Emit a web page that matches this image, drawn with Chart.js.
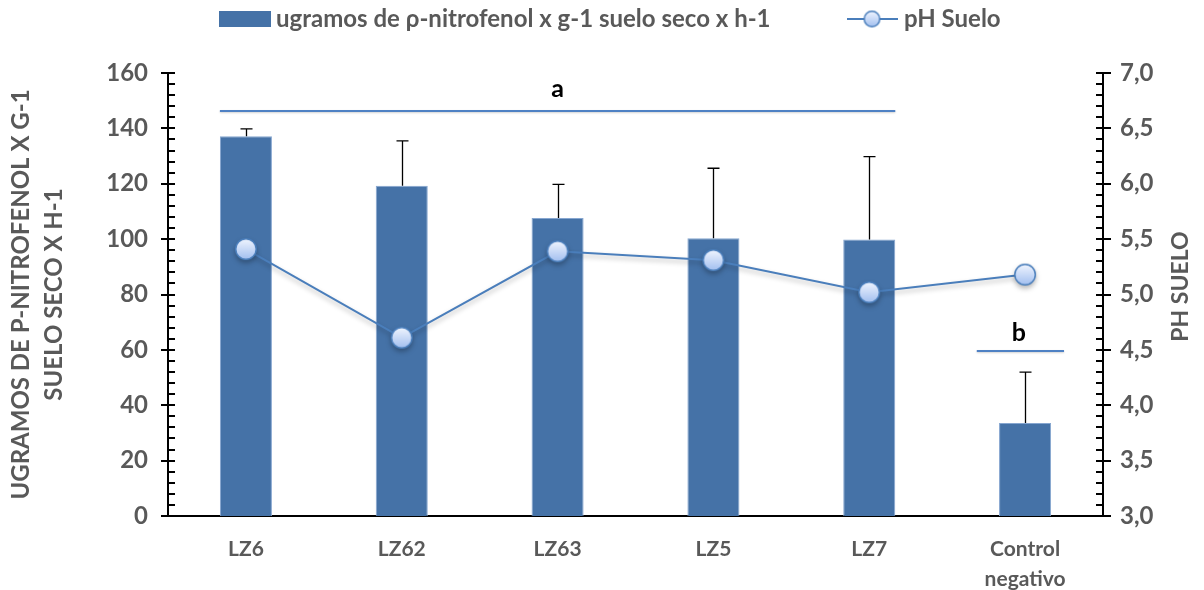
<!DOCTYPE html>
<html>
<head>
<meta charset="utf-8">
<script src="https://cdn.jsdelivr.net/npm/chart.js@4.4.1/dist/chart.umd.min.js"></script>
<style>
  html, body { margin: 0; padding: 0; background: #ffffff; }
  #wrap { width: 1204px; height: 590px; position: relative; }
</style>
</head>
<body>
<div id="wrap"><canvas id="c"></canvas></div>
<script>
// Categories and measured values
const categorias = ['LZ6', 'LZ62', 'LZ63', 'LZ5', 'LZ7', ['Control', 'negativo']];
const actividad = [137.2, 119.3, 107.6, 100.3, 99.9, 33.6];
const errorActividad = [2.6, 16.2, 12.2, 25.3, 29.9, 18.4];
const phSuelo = [5.41, 4.61, 5.39, 5.31, 5.02, 5.18];
const letrasGrupo = ['a', 'b'];

const serieBarras = 'ugramos de ρ-nitrofenol x g-1 suelo seco x h-1';
const serieLinea = 'pH Suelo';
const tituloIzq = ['UGRAMOS DE P-NITROFENOL X G-1', 'SUELO SECO X H-1'];
const tituloDer = 'PH SUELO';

const FONT = 'Lato, "Open Sans", "DejaVu Sans", sans-serif';
const GRIS = '#595959';
const AZUL_BARRA = '#4572a7';
const AZUL_LINEA = '#4a7ebb';

// Round marker with a soft vertical gradient
function marcador(d) {
  const s = d + 4;
  const c = document.createElement('canvas');
  c.width = s; c.height = s;
  const g = c.getContext('2d');
  const grad = g.createLinearGradient(0, 2, 0, 2 + d);
  grad.addColorStop(0, '#f3f7ff');
  grad.addColorStop(1, '#9fbdef');
  g.beginPath();
  g.arc(s / 2, s / 2, d / 2 - 0.75, 0, Math.PI * 2);
  g.fillStyle = grad;
  g.fill();
  g.lineWidth = 1.5;
  g.strokeStyle = AZUL_LINEA;
  g.stroke();
  return c;
}
const marcadorGrande = marcador(22);
const marcadorLeyenda = marcador(17);

// Axis ticks: majors cross the axis line, minors sit on the inner side
const marcasEje = {
  id: 'marcasEje',
  afterDraw(chart) {
    const ctx = chart.ctx;
    const y1 = chart.scales.y, y2 = chart.scales.y2;
    ctx.save();
    ctx.strokeStyle = '#000';
    ctx.lineWidth = 2;
    const axL = y1.right;
    for (let v = 0; v <= 160.001; v += 4) {
      const py = Math.round(y1.getPixelForValue(v));
      const mayor = Math.abs(v % 20) < 0.001;
      ctx.beginPath();
      ctx.moveTo(mayor ? axL - 7 : axL, py);
      ctx.lineTo(axL + 7, py);
      ctx.stroke();
    }
    const axR = y2.left;
    for (let i = 0; i <= 40; i++) {
      const v = 3 + i * 0.1;
      const py = Math.round(y2.getPixelForValue(v));
      const mayor = i % 5 === 0;
      ctx.beginPath();
      ctx.moveTo(axR - 7, py);
      ctx.lineTo(mayor ? axR + 8 : axR, py);
      ctx.stroke();
    }
    ctx.restore();
  }
};

// Upper error bars drawn right after the bars
const barrasError = {
  id: 'barrasError',
  afterDatasetDraw(chart, args) {
    if (args.index !== 0) return;
    const ctx = chart.ctx;
    const y = chart.scales.y;
    const meta = chart.getDatasetMeta(0);
    ctx.save();
    ctx.strokeStyle = '#000';
    ctx.lineWidth = 1.3;
    meta.data.forEach((bar, i) => {
      const top = y.getPixelForValue(actividad[i]);
      const tip = y.getPixelForValue(actividad[i] + errorActividad[i]);
      const x = Math.round(bar.x) + 0.5;
      ctx.beginPath();
      ctx.moveTo(x, top);
      ctx.lineTo(x, tip);
      ctx.moveTo(x - 6, tip);
      ctx.lineTo(x + 6, tip);
      ctx.stroke();
    });
    ctx.restore();
  }
};

// Soft drop shadow beneath the pH line
const sombraLinea = {
  id: 'sombraLinea',
  beforeDatasetDraw(chart, args) {
    if (args.index !== 1) return;
    const ctx = chart.ctx;
    ctx.save();
    ctx.shadowColor = 'rgba(0,0,0,0.28)';
    ctx.shadowBlur = 5;
    ctx.shadowOffsetY = 3;
  },
  afterDatasetDraw(chart, args) {
    if (args.index !== 1) return;
    chart.ctx.restore();
  }
};

// Significance groups, legend and right-hand axis title
const extras = {
  id: 'extras',
  afterDraw(chart) {
    const ctx = chart.ctx;
    const x = chart.scales.x, y = chart.scales.y;
    const meta = chart.getDatasetMeta(0);
    const paso = x.getPixelForValue(1) - x.getPixelForValue(0);
    const b0 = meta.data[0], b4 = meta.data[4];

    ctx.save();
    ctx.strokeStyle = '#4f81c4';
    ctx.lineWidth = 2;
    ctx.shadowColor = 'rgba(0,0,0,0.18)';
    ctx.shadowBlur = 2;
    ctx.shadowOffsetY = 1;
    // group a: spans the first five bars
    let ly = Math.round(y.getPixelForValue(146.3));
    ctx.beginPath();
    ctx.moveTo(b0.x - b0.width / 2, ly);
    ctx.lineTo(b4.x + b4.width / 2, ly);
    ctx.stroke();
    // group b: over the control
    const cx = x.getPixelForValue(5);
    ly = Math.round(y.getPixelForValue(59.6));
    ctx.beginPath();
    ctx.moveTo(cx - paso * 0.31, ly);
    ctx.lineTo(cx + paso * 0.25, ly);
    ctx.stroke();
    ctx.restore();

    ctx.save();
    ctx.fillStyle = '#000';
    ctx.font = 'bold 25px ' + FONT;
    ctx.textAlign = 'center';
    ctx.textBaseline = 'middle';
    ctx.fillText(letrasGrupo[0], x.getPixelForValue(2), y.getPixelForValue(154.2));
    ctx.fillText(letrasGrupo[1], cx - paso * 0.04, y.getPixelForValue(66.1));
    ctx.restore();

    // legend
    ctx.save();
    ctx.fillStyle = AZUL_BARRA;
    ctx.fillRect(219, 11, 52, 16);
    ctx.fillStyle = GRIS;
    ctx.font = 'bold 24px ' + FONT;
    ctx.textAlign = 'left';
    ctx.textBaseline = 'middle';
    ctx.fillText(serieBarras, 276, 19);
    ctx.strokeStyle = AZUL_LINEA;
    ctx.lineWidth = 2;
    ctx.beginPath();
    ctx.moveTo(847, 19);
    ctx.lineTo(898, 19);
    ctx.stroke();
    ctx.drawImage(marcadorLeyenda, 872 - marcadorLeyenda.width / 2, 19 - marcadorLeyenda.height / 2);
    ctx.fillText(serieLinea, 904, 19);

    // right axis title, reading bottom to top
    ctx.translate(1181, (chart.chartArea.top + chart.chartArea.bottom) / 2 - 8);
    ctx.rotate(-Math.PI / 2);
    ctx.textAlign = 'center';
    ctx.font = 'bold 23px ' + FONT;
    ctx.fillText(tituloDer, 0, 0);
    ctx.restore();
  }
};

new Chart(document.getElementById('c'), {
  data: {
    labels: categorias,
    datasets: [
      {
        type: 'bar',
        label: serieBarras,
        data: actividad,
        yAxisID: 'y',
        backgroundColor: AZUL_BARRA,
        borderColor: '#86a6d0',
        borderWidth: 1,
        categoryPercentage: 0.334,
        barPercentage: 1,
        order: 1
      },
      {
        type: 'line',
        label: serieLinea,
        data: phSuelo,
        yAxisID: 'y2',
        borderColor: AZUL_LINEA,
        borderWidth: 2,
        pointStyle: marcadorGrande,
        pointRadius: 11,
        pointHoverRadius: 11,
        tension: 0,
        order: 0
      }
    ]
  },
  options: {
    responsive: true,
    maintainAspectRatio: false,
    animation: false,
    events: [],
    layout: { padding: { top: 73, left: 0, right: 0, bottom: 0 } },
    plugins: {
      legend: { display: false },
      tooltip: { enabled: false }
    },
    scales: {
      x: {
        grid: { display: false, drawTicks: false },
        border: { display: true, color: '#000', width: 2 },
        ticks: {
          color: GRIS,
          font: { family: FONT, size: 21, weight: 'bold', lineHeight: 1.4 },
          padding: 19,
          maxRotation: 0,
          autoSkip: false
        },
        afterFit(s) { s.height = 74; }
      },
      y: {
        position: 'left',
        min: 0, max: 160,
        grid: { display: false, drawTicks: false },
        border: { display: true, color: '#000', width: 2 },
        ticks: {
          stepSize: 20,
          color: GRIS,
          font: { family: FONT, size: 24, weight: 'bold' },
          padding: 20
        },
        title: {
          display: true,
          text: tituloIzq,
          color: GRIS,
          font: { family: FONT, size: 24, weight: 'bold', lineHeight: 1.375 },
          padding: { top: 5, bottom: 0 }
        },
        afterFit(s) { s.width = 168; }
      },
      y2: {
        position: 'right',
        min: 3, max: 7,
        grid: { display: false, drawTicks: false, drawOnChartArea: false },
        border: { display: true, color: '#000', width: 2 },
        ticks: {
          stepSize: 0.5,
          color: GRIS,
          font: { family: FONT, size: 24, weight: 'bold' },
          padding: 17,
          callback: v => v.toFixed(1).replace('.', ',')
        },
        afterFit(s) { s.width = 101; }
      }
    }
  },
  plugins: [barrasError, sombraLinea, marcasEje, extras]
});
</script>
</body>
</html>
